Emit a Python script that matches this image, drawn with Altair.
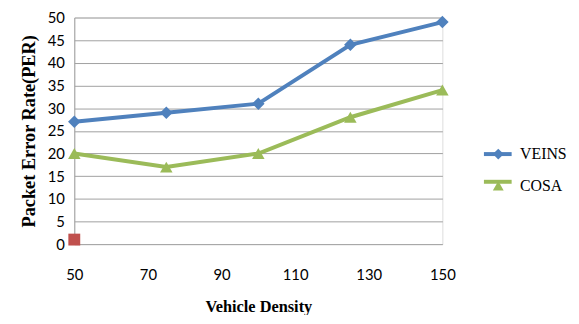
import altair as alt
import pandas as pd

density = [50, 75, 100, 125, 150]
veins = [27, 29, 31, 44, 49]
cosa = [20, 17, 20, 28, 34]
marker_x = [50]
marker_y = [1]
series_names = ["VEINS", "COSA"]
colors = ["#4F81BD", "#9BBB59"]
x_ticks = [50, 70, 90, 110, 130, 150]
y_ticks = list(range(0, 55, 5))

df = pd.DataFrame({
    "x": density * 2,
    "y": veins + cosa,
    "s": ["VEINS"] * 5 + ["COSA"] * 5,
})
df["s2"] = df["s"]
dm = pd.DataFrame({"x": marker_x, "y": marker_y})

xs = alt.Scale(domain=[50, 150], nice=False, zero=False)
ys = alt.Scale(domain=[0, 50], nice=False)

xaxis = alt.Axis(values=x_ticks, grid=False, ticks=False, domain=False,
                 labelPadding=24, labelFlush=False, title="Vehicle Density", titlePadding=16,
                 labelFont="Lato", labelFontSize=15, labelColor="#000",
                 titleFont="Liberation Serif", titleFontSize=16.5,
                 titleFontWeight="bold", titleColor="#000")
yaxis = alt.Axis(values=y_ticks, grid=True, gridColor="#A0A0A0", ticks=False,
                 domain=True, domainColor="#A0A0A0", labelPadding=10,
                 labelOverlap=False, labelFlush=False,
                 title="Packet Error Rate(PER)", titlePadding=9,
                 labelFont="Lato", labelFontSize=15, labelColor="#000",
                 titleFont="Liberation Serif", titleFontSize=18.5,
                 titleFontWeight="bold", titleColor="#000")

LX, LY = 412, 130
stroke_legend = alt.Legend(
    title=None, orient="none", legendX=LX, legendY=LY - 8,
    symbolType="stroke", symbolStrokeWidth=4, symbolSize=784,
    labelFont="Liberation Serif", labelFontSize=1, labelColor="#000",
    labelOpacity=0, rowPadding=4, labelOffset=6,
)
shape_legend = alt.Legend(
    title=None, orient="none", legendX=LX + 8.5, legendY=LY,
    symbolSize=120, symbolStrokeWidth=0, symbolOpacity=1,
    labelFont="Liberation Serif", labelFontSize=16, labelColor="#000",
    rowPadding=16, labelOffset=14,
)

base = alt.Chart(df)
lines = base.mark_line(strokeWidth=4).encode(
    x=alt.X("x:Q", scale=xs, axis=xaxis),
    y=alt.Y("y:Q", scale=ys, axis=yaxis),
    stroke=alt.Stroke("s2:N", scale=alt.Scale(range=colors),
                      sort=series_names, legend=stroke_legend),
)
points = base.mark_point(filled=True, opacity=1).encode(
    x=alt.X("x:Q", scale=xs, axis=xaxis),
    y=alt.Y("y:Q", scale=ys, axis=yaxis),
    color=alt.Color("s:N", scale=alt.Scale(domain=series_names, range=colors),
                    sort=series_names, legend=shape_legend),
    shape=alt.Shape("s:N", scale=alt.Scale(domain=series_names, range=["diamond", "triangle-up"]),
                    sort=series_names, legend=shape_legend),
    size=alt.value(160),
)
marker = alt.Chart(dm).mark_square(size=144, color="#C0504D", opacity=1).encode(
    x=alt.X("x:Q", scale=xs, axis=xaxis),
    y=alt.Y("y:Q", scale=ys, axis=yaxis),
)

chart = alt.layer(lines, points, marker).properties(
    width=372, height=229,
    autosize=alt.AutoSizeParams(type="none"),
    padding={"left": 67, "top": 8, "right": 130, "bottom": 70},
).configure_view(stroke=None).configure(background="white")

chart.save("out.html", embed_options={"renderer": "svg", "actions": False})
